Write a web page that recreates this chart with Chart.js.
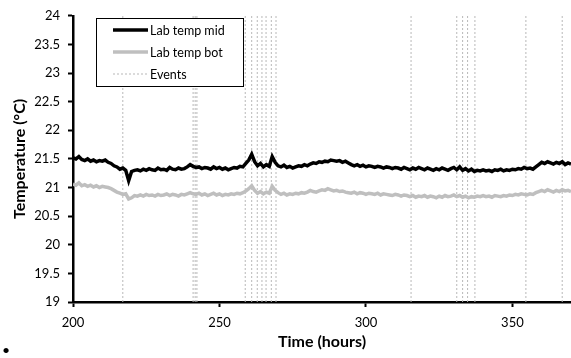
<!DOCTYPE html>
<html>
<head>
<meta charset="utf-8">
<title>Lab temperature</title>
<script src="https://cdn.jsdelivr.net/npm/chart.js@4.4.1/dist/chart.umd.min.js"></script>
<style>
    body { margin: 0; background: #fff; }
    #wrap { position: relative; width: 571px; height: 358px; }
    #bullet { position: absolute; left: 2px; top: 341px; font: 14px Lato, sans-serif; color: #000; }
</style>
</head>
<body>
<div id="wrap">
    <canvas id="tempChart"></canvas>
    <span id="bullet">•</span>
</div>
<script>
// === DATA (hourly samples from 200 h) ===
const startHour = 200;
const labTempMid = [
    21.52, 21.50, 21.54, 21.49, 21.47, 21.50, 21.46, 21.48, 21.45, 21.47, 21.46, 21.48, 21.44,
    21.42, 21.38, 21.36, 21.32, 21.34, 21.30, 21.12,
    21.28, 21.30, 21.31, 21.29, 21.32, 21.30, 21.33, 21.31, 21.30, 21.34, 21.31, 21.32, 21.30, 21.35, 21.32, 21.31, 21.34, 21.32, 21.33, 21.36,
    21.40, 21.37, 21.35, 21.36, 21.33, 21.35, 21.34, 21.32, 21.36, 21.33, 21.35, 21.32, 21.34, 21.31, 21.33, 21.35, 21.34, 21.37, 21.36, 21.42,
    21.48, 21.58, 21.45, 21.38, 21.42, 21.36, 21.40, 21.37, 21.54, 21.44,
    21.38, 21.36, 21.39, 21.35, 21.37, 21.34, 21.36, 21.38, 21.37, 21.40, 21.38, 21.41, 21.43, 21.42, 21.45, 21.44, 21.46, 21.45, 21.48, 21.47,
    21.46, 21.47, 21.44, 21.46, 21.43, 21.40, 21.38, 21.40, 21.37, 21.39, 21.36, 21.38, 21.37, 21.35, 21.37, 21.36, 21.34, 21.36, 21.35, 21.33,
    21.35, 21.34, 21.32, 21.35, 21.33, 21.31, 21.34, 21.32, 21.35, 21.33, 21.31, 21.34, 21.32, 21.30, 21.33, 21.31, 21.34, 21.32, 21.30, 21.33,
    21.35, 21.31, 21.36, 21.30, 21.33, 21.29, 21.32, 21.28, 21.30, 21.29, 21.31, 21.29, 21.30, 21.28, 21.31, 21.30, 21.32, 21.29, 21.31, 21.30,
    21.32, 21.31, 21.33, 21.32, 21.35, 21.33, 21.34, 21.32, 21.36, 21.40,
    21.44, 21.42, 21.45, 21.43, 21.41, 21.44, 21.42, 21.45, 21.40, 21.43, 21.41
];
const labTempBot = [
    21.06, 21.04, 21.08, 21.03, 21.05, 21.02, 21.04, 21.01, 21.03, 21.00, 21.02, 21.01, 21.00,
    20.98, 20.95, 20.92, 20.90, 20.88, 20.89, 20.80,
    20.82, 20.86, 20.85, 20.87, 20.85, 20.88, 20.86, 20.87, 20.85, 20.88, 20.86, 20.87, 20.89, 20.86, 20.88, 20.87, 20.85, 20.88, 20.87, 20.89,
    20.91, 20.89, 20.88, 20.90, 20.87, 20.89, 20.86, 20.88, 20.90, 20.87, 20.89, 20.86, 20.88, 20.87, 20.89, 20.88, 20.90, 20.89, 20.91, 20.94,
    20.98, 21.03, 20.95, 20.90, 20.93, 20.89, 20.92, 20.90, 21.02, 20.95,
    20.91, 20.88, 20.90, 20.87, 20.89, 20.88, 20.90, 20.89, 20.91, 20.90, 20.92, 20.95, 20.93, 20.92, 20.94, 20.96, 20.95, 20.98, 20.96, 20.94,
    20.95, 20.93, 20.94, 20.92, 20.91, 20.90, 20.92, 20.89, 20.91, 20.90, 20.88, 20.90, 20.89, 20.88, 20.90, 20.87, 20.89, 20.88, 20.87, 20.86,
    20.88, 20.87, 20.85, 20.87, 20.86, 20.84, 20.86, 20.83, 20.85, 20.84, 20.86, 20.83, 20.85, 20.84, 20.82, 20.85, 20.83, 20.86, 20.84, 20.85,
    20.87, 20.84, 20.86, 20.83, 20.85, 20.82, 20.84, 20.83, 20.85, 20.84, 20.86, 20.84, 20.85, 20.83, 20.86, 20.85, 20.84, 20.86, 20.85, 20.87,
    20.86, 20.88, 20.87, 20.89, 20.88, 20.87, 20.89, 20.88, 20.91, 20.93,
    20.95, 20.93, 20.96, 20.94, 20.92, 20.95, 20.93, 20.96, 20.94, 20.95, 20.93
];
const eventHours = [217, 241, 241.7, 242.3, 258.8, 261, 262.9, 264.5, 265.9, 267.7, 269.3,
    315.4, 331, 333, 334.7, 337.2, 354.6, 367];
const xTicks = [200, 250, 300, 350];
const xMin = 200, xMax = 370;
const yMin = 19, yMax = 24, yStep = 0.5;

// === BUILD POINTS ===
const toPoints = arr => arr.map((v, i) => ({ x: startHour + i, y: v }));

// one dataset for all events, vertical segments split by gaps
const eventPoints = [];
eventHours.forEach(h => {
    eventPoints.push({ x: h, y: yMin }, { x: h, y: yMax }, { x: h, y: null });
});

// === LEGEND BOX (drawn inside the plot) ===
const boxLegend = {
    id: "boxLegend",
    afterDatasetsDraw(chart) {
        const ctx = chart.ctx;
        const items = chart.data.datasets;
        ctx.save();
        ctx.fillStyle = "#fff";
        ctx.fillRect(96, 18, 147, 68);
        ctx.strokeStyle = "#000";
        ctx.lineWidth = 1;
        ctx.strokeRect(96.5, 18.5, 147, 68);
        ctx.font = "12.5px Lato";
        ctx.textBaseline = "middle";
        items.forEach((ds, i) => {
            const y = 30 + i * 22;
            ctx.beginPath();
            ctx.strokeStyle = ds.borderColor;
            ctx.lineWidth = ds.borderWidth;
            ctx.setLineDash(ds.borderDash || []);
            ctx.moveTo(113, y);
            ctx.lineTo(148, y);
            ctx.stroke();
            ctx.setLineDash([]);
            ctx.fillStyle = "#000";
            ctx.fillText(ds.label, 150, y + 1);
        });
        ctx.restore();
    }
};

document.addEventListener("DOMContentLoaded", function () {
    const canvas = document.getElementById("tempChart");

    new Chart(canvas, {
        type: "line",
        data: {
            datasets: [
                {
                    label: "Lab temp mid",
                    data: toPoints(labTempMid),
                    borderColor: "#000000",
                    borderWidth: 3.5,
                    pointRadius: 0,
                    tension: 0,
                    order: 1
                },
                {
                    label: "Lab temp bot",
                    data: toPoints(labTempBot),
                    borderColor: "#bfbfbf",
                    borderWidth: 3.5,
                    pointRadius: 0,
                    tension: 0,
                    order: 2
                },
                {
                    label: "Events",
                    data: eventPoints,
                    borderColor: "#b8b8b8",
                    borderWidth: 1,
                    borderDash: [2, 2],
                    pointRadius: 0,
                    spanGaps: false,
                    order: 3
                }
            ]
        },
        options: {
            responsive: true,
            maintainAspectRatio: false,
            animation: false,
            events: [],
            layout: { padding: { top: 13, right: 0, left: 0, bottom: 0 } },
            plugins: {
                legend: { display: false },
                tooltip: { enabled: false }
            },
            scales: {
                x: {
                    type: "linear",
                    min: xMin,
                    max: xMax,
                    afterBuildTicks: axis => { axis.ticks = xTicks.map(v => ({ value: v })); },
                    afterFit: axis => { axis.height = 56; },
                    border: { display: true, color: "#000", width: 2.5 },
                    grid: { display: true, color: "#000", drawOnChartArea: false, drawTicks: true, tickLength: 5, tickWidth: 2, tickColor: "#000" },
                    ticks: { color: "#000", padding: 8, maxRotation: 0, font: { family: "Lato", size: 13 } },
                    title: { display: true, text: "Time (hours)", color: "#000", padding: { top: 0, bottom: 7 }, font: { family: "Lato", size: 16, weight: "bold" } }
                },
                y: {
                    min: yMin,
                    max: yMax,
                    afterFit: axis => { axis.width = 73; },
                    border: { display: true, color: "#000", width: 2.5 },
                    grid: { display: true, color: "#000", drawOnChartArea: false, drawTicks: true, tickLength: 5, tickWidth: 2, tickColor: "#000" },
                    ticks: { color: "#000", stepSize: yStep, padding: 8, font: { family: "Lato", size: 13 }, callback: v => String(v) },
                    title: { display: true, text: "Temperature (°C)", color: "#000", padding: { top: 10, bottom: 0 }, font: { family: "Lato", size: 16, weight: "bold" } }
                }
            }
        },
        plugins: [boxLegend]
    });
});
</script>
</body>
</html>
